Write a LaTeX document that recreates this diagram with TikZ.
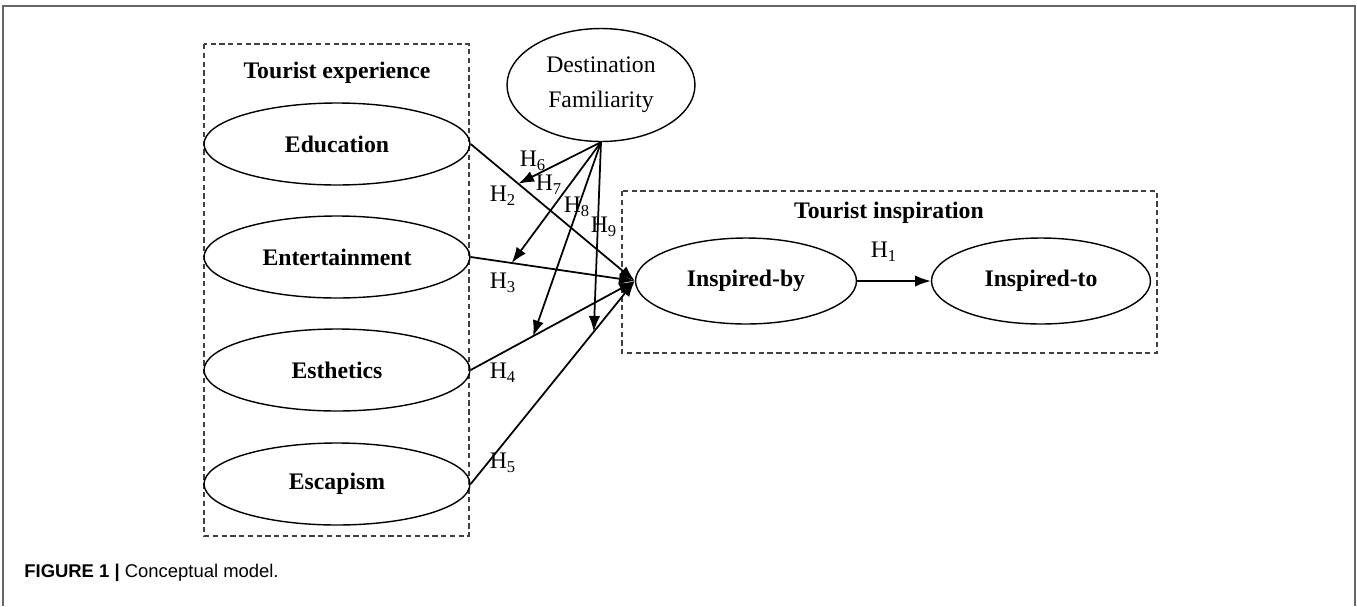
\documentclass[tikz,border=0pt]{standalone}
\usepackage{fontspec}
\setmainfont{Liberation Serif}
\newfontfamily\captionsans{Liberation Sans}
\usetikzlibrary{arrows.meta, shapes.geometric}

\begin{document}
\begin{tikzpicture}[x=0.02cm, y=-0.02cm,
    factor/.style={ellipse, draw, line width=0.8pt, inner sep=0pt,
      minimum width=5.32cm, minimum height=1.64cm,
      font=\fontsize{13.5}{15}\selectfont\bfseries},
    groupbox/.style={draw, line width=1pt, dash pattern=on 3pt off 2pt, black!75},
    path arrow/.style={arrows={-Latex[length=9pt, width=6.5pt]}, line width=1pt},
    hlabel/.style={font=\fontsize{13.5}{15}\selectfont, inner sep=0pt},
    title/.style={font=\fontsize{13.5}{15}\selectfont\bfseries, inner sep=0pt}]
  \useasboundingbox (0,0) rectangle (1357,606);
  % draw the frame first
  \draw [line width=1.2pt, black!60] (3,606) -- (3,6) -- (1355,6) -- (1355,606);
  % Draw group boxes and their titles
  \draw [groupbox] (204,44) rectangle (469,536);
  \draw [groupbox] (622,191) rectangle (1157,353);
  \node [title] (texp) at (337,73) {Tourist experience};
  \node [title] (tins) at (889,213) {Tourist inspiration};
  % Draw factors
  \node [factor] (edu) at (337,144) {Education};
  \node [factor] (ent) at (337,257) {Entertainment};
  \node [factor] (est) at (337,370) {Esthetics};
  \node [factor] (esc) at (337,484) {Escapism};
  \node [factor, minimum width=4.42cm, minimum height=1.72cm] (iby) at (746,281) {Inspired-by};
  \node [factor, minimum width=4.38cm, minimum height=1.72cm] (ito) at (1041,281) {Inspired-to};
  \node [factor, minimum width=3.76cm, minimum height=2.26cm, align=center,
    font=\fontsize{13.5}{20}\selectfont] (fam) at (601,85) {Destination\\Familiarity};
  % Draw direct paths
  \draw [path arrow] (edu.east) -- coordinate[pos=0.29] (m6) (iby.west);
  \draw [path arrow] (ent.east) -- coordinate[pos=0.25] (m7) (iby.west);
  \draw [path arrow] (est.east) -- coordinate[pos=0.38] (m8) (iby.west);
  \draw [path arrow] (esc.east) -- coordinate[pos=0.75] (m9) (iby.west);
  \draw [path arrow] (iby) -- (ito);
  % Draw moderating arrows
  \draw [path arrow] (fam.south) -- (m6);
  \draw [path arrow] (fam.south) -- (m7);
  \draw [path arrow] (fam.south) -- (m8);
  \draw [path arrow] (fam.south) -- (m9);
  % Add labels
  \node [hlabel] (h1) at (884,252) {H\textsubscript{1}};
  \node [hlabel] (h2) at (503,196) {H\textsubscript{2}};
  \node [hlabel] (h3) at (503,283) {H\textsubscript{3}};
  \node [hlabel] (h4) at (503,373) {H\textsubscript{4}};
  \node [hlabel] (h5) at (503,463) {H\textsubscript{5}};
  \node [hlabel] (h6) at (533,161) {H\textsubscript{6}};
  \node [hlabel] (h7) at (549,185) {H\textsubscript{7}};
  \node [hlabel] (h8) at (577,207) {H\textsubscript{8}};
  \node [hlabel] (h9) at (604,227) {H\textsubscript{9}};
  \node [anchor=west, inner sep=0pt, font=\captionsans\fontsize{10.5}{12}\selectfont]
    (cap) at (24,573) {\textbf{FIGURE 1 |} Conceptual model.};
\end{tikzpicture}
\end{document}
